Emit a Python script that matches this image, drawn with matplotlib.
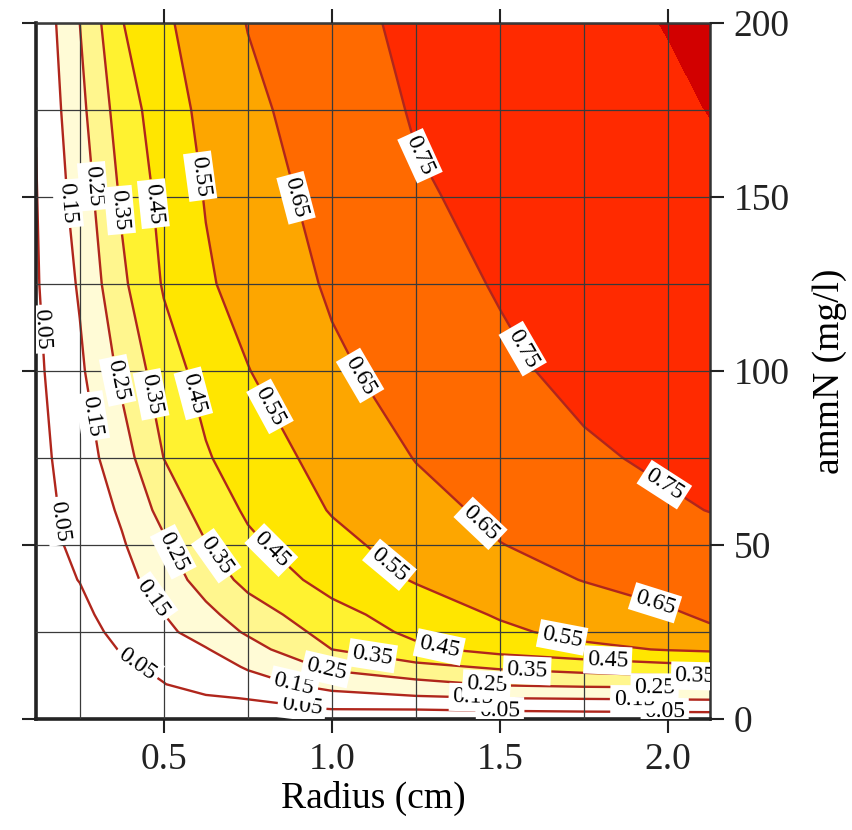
import numpy as np
import matplotlib
matplotlib.use("Agg")
import matplotlib.pyplot as plt
from matplotlib.ticker import MultipleLocator

plt.rcParams['font.family'] = ['Liberation Serif', 'DejaVu Serif']

# ---- data ----
radius = [0.12, 0.25, 0.375, 0.5, 0.625, 0.75, 1.0, 1.25, 1.5, 1.75, 2.0, 2.125]
ammN = [0, 3, 6, 10, 15, 20, 25, 30, 40, 50, 60, 75, 100, 125, 150, 175, 200]

z_N0   = [0, 0, 0, 0, 0, 0, 0, 0, 0, 0, 0, 0]
z_N3   = [0.001, 0.003, 0.008, 0.015, 0.020, 0.026, 0.053, 0.055, 0.064, 0.070, 0.074, 0.076]
z_N6   = [0.002, 0.005, 0.014, 0.030, 0.040, 0.053, 0.117, 0.136, 0.150, 0.156, 0.161, 0.163]
z_N10  = [0.004, 0.007, 0.025, 0.048, 0.083, 0.117, 0.180, 0.222, 0.259, 0.271, 0.277, 0.280]
z_N15  = [0.006, 0.010, 0.035, 0.067, 0.111, 0.158, 0.270, 0.324, 0.365, 0.392, 0.420, 0.435]
z_N20  = [0.008, 0.015, 0.054, 0.099, 0.144, 0.212, 0.350, 0.429, 0.483, 0.527, 0.556, 0.565]
z_N25  = [0.010, 0.018, 0.073, 0.128, 0.192, 0.262, 0.386, 0.472, 0.531, 0.578, 0.620, 0.640]
z_N30  = [0.012, 0.029, 0.089, 0.149, 0.224, 0.301, 0.418, 0.497, 0.559, 0.600, 0.641, 0.660]
z_N40  = [0.015, 0.052, 0.117, 0.196, 0.292, 0.379, 0.487, 0.557, 0.609, 0.653, 0.680, 0.690]
z_N50  = [0.017, 0.069, 0.140, 0.234, 0.345, 0.430, 0.523, 0.590, 0.648, 0.677, 0.705, 0.719]
z_N60  = [0.018, 0.081, 0.164, 0.282, 0.391, 0.464, 0.556, 0.621, 0.669, 0.704, 0.738, 0.752]
z_N75  = [0.020, 0.103, 0.205, 0.351, 0.441, 0.498, 0.585, 0.653, 0.695, 0.737, 0.765, 0.775]
z_N100 = [0.030, 0.133, 0.271, 0.405, 0.485, 0.547, 0.634, 0.687, 0.733, 0.773, 0.790, 0.795]
z_N125 = [0.041, 0.161, 0.331, 0.459, 0.538, 0.585, 0.662, 0.714, 0.757, 0.780, 0.800, 0.810]
z_N150 = [0.046, 0.192, 0.363, 0.481, 0.555, 0.606, 0.683, 0.741, 0.770, 0.793, 0.817, 0.829]
z_N175 = [0.053, 0.222, 0.399, 0.505, 0.574, 0.628, 0.702, 0.757, 0.784, 0.811, 0.837, 0.852]
z_N200 = [0.065, 0.250, 0.446, 0.534, 0.597, 0.653, 0.723, 0.768, 0.797, 0.826, 0.853, 0.862]

line_levels = [0.05, 0.15, 0.25, 0.35, 0.45, 0.55, 0.65, 0.75]
fill_levels = [-0.01, 0.15, 0.25, 0.35, 0.45, 0.55, 0.65, 0.75, 0.85, 1.0]
fill_colors = ['#FFFFFF', '#FFFBD6', '#FFF68E', '#FFF230', '#FFE600',
               '#FDA600', '#FF6A00', '#FF2A00', '#D20000']

# label anchor points (radius, ammN) for each level
label_pos = {
    0.05: [(0.137, 112), (0.20, 57), (0.43, 17), (0.91, 2.6), (1.5, 2.6), (1.99, 2.0)],
    0.15: [(0.20, 148), (0.286, 87), (0.46, 34), (0.887, 10), (1.42, 5.5), (1.90, 5.0)],
    0.25: [(0.277, 153), (0.348, 97), (0.527, 48), (0.98, 13), (1.46, 9.8), (1.96, 9.0)],
    0.35: [(0.342, 146), (0.446, 93), (0.65, 46.5), (1.116, 16), (1.58, 13), (2.08, 11.5)],
    0.45: [(0.46, 148), (0.565, 93), (0.80, 46.5), (1.315, 19), (1.82, 15.5)],
    0.55: [(0.61, 156), (0.80, 89), (1.16, 43), (1.68, 21)],
    0.65: [(0.863, 149), (1.056, 97), (1.44, 56), (1.96, 33)],
    0.75: [(1.265, 162), (1.56, 106), (1.98, 66)],
}

Z = np.array([z_N0, z_N3, z_N6, z_N10, z_N15, z_N20, z_N25, z_N30, z_N40, z_N50,
              z_N60, z_N75, z_N100, z_N125, z_N150, z_N175, z_N200])
R, N = np.meshgrid(radius, ammN)

fig = plt.figure(figsize=(8.52, 8.30), dpi=100)
ax = fig.add_axes([0.0423, 0.1337, 0.7911, 0.8386])

ax.contourf(R, N, Z, levels=fill_levels, colors=fill_colors, zorder=1)

# grid
ax.xaxis.set_minor_locator(MultipleLocator(0.25))
ax.yaxis.set_minor_locator(MultipleLocator(25))
ax.grid(which='both', color='#3a3a3a', linewidth=0.9, zorder=1.5)
ax.set_axisbelow(False)

for lev in line_levels:
    cs = ax.contour(R, N, Z, levels=[lev], colors='#B0261C', linewidths=1.7, zorder=2)
    texts = ax.clabel(cs, manual=label_pos[lev], inline=True,
                      inline_spacing=4, fontsize=17, colors='black', fmt='%.2f')
    for t in texts:
        t.set_bbox(dict(boxstyle='square,pad=0.15', facecolor='white', edgecolor='none'))
        t.set_zorder(5)

ax.set_xlim(0.12, 2.125)
ax.set_ylim(0, 200)
ax.set_xticks([0.5, 1.0, 1.5, 2.0])
ax.set_xticklabels(['0.5', '1.0', '1.5', '2.0'])
ax.set_yticks([0, 50, 100, 150, 200])

ax.tick_params(which='major', direction='out', length=10, width=1.5, labelsize=27,
               top=True, bottom=True, left=True, right=True,
               labelleft=False, labelright=True, pad=7, colors='#222222')
ax.tick_params(which='minor', length=0)
ax.yaxis.set_label_position('right')

ax.set_xlabel('Radius (cm)', fontsize=27, labelpad=3)
ax.set_ylabel('ammN (mg/l)', fontsize=27, labelpad=16)

for side in ['left', 'bottom']:
    ax.spines[side].set_linewidth(2.6)
    ax.spines[side].set_color('#222222')
for side in ['right', 'top']:
    ax.spines[side].set_linewidth(1.8)
    ax.spines[side].set_color('#333333')

fig.savefig('out.png', dpi=100)
